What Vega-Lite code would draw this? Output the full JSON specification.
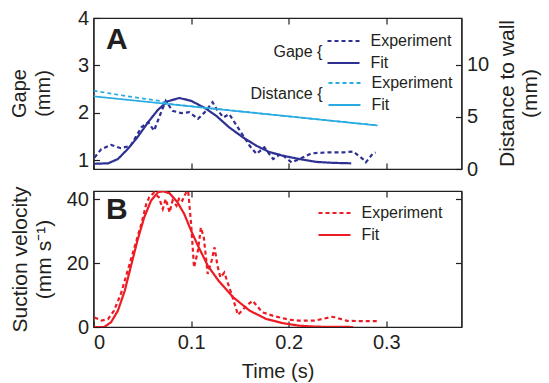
{
  "$schema": "https://vega.github.io/schema/vega-lite/v6.json",
  "padding": {"left": 8.5, "top": 7, "right": 0, "bottom": 0},
  "autosize": {"type": "pad"},
  "background": "white",
  "datasets": {
    "gape": [
      {"t": 0.001, "gape": 1.05, "series": "Experiment"},
      {"t": 0.008, "gape": 1.23, "series": "Experiment"},
      {"t": 0.018, "gape": 1.32, "series": "Experiment"},
      {"t": 0.028, "gape": 1.25, "series": "Experiment"},
      {"t": 0.038, "gape": 1.30, "series": "Experiment"},
      {"t": 0.049, "gape": 1.69, "series": "Experiment"},
      {"t": 0.056, "gape": 1.80, "series": "Experiment"},
      {"t": 0.062, "gape": 1.62, "series": "Experiment"},
      {"t": 0.068, "gape": 1.94, "series": "Experiment"},
      {"t": 0.074, "gape": 2.25, "series": "Experiment"},
      {"t": 0.081, "gape": 2.04, "series": "Experiment"},
      {"t": 0.090, "gape": 1.99, "series": "Experiment"},
      {"t": 0.098, "gape": 2.01, "series": "Experiment"},
      {"t": 0.107, "gape": 1.87, "series": "Experiment"},
      {"t": 0.114, "gape": 2.01, "series": "Experiment"},
      {"t": 0.122, "gape": 2.22, "series": "Experiment"},
      {"t": 0.126, "gape": 2.08, "series": "Experiment"},
      {"t": 0.133, "gape": 1.90, "series": "Experiment"},
      {"t": 0.139, "gape": 1.97, "series": "Experiment"},
      {"t": 0.150, "gape": 1.62, "series": "Experiment"},
      {"t": 0.160, "gape": 1.30, "series": "Experiment"},
      {"t": 0.167, "gape": 1.13, "series": "Experiment"},
      {"t": 0.175, "gape": 1.27, "series": "Experiment"},
      {"t": 0.184, "gape": 1.02, "series": "Experiment"},
      {"t": 0.192, "gape": 1.13, "series": "Experiment"},
      {"t": 0.203, "gape": 0.95, "series": "Experiment"},
      {"t": 0.211, "gape": 1.02, "series": "Experiment"},
      {"t": 0.223, "gape": 1.14, "series": "Experiment"},
      {"t": 0.238, "gape": 1.16, "series": "Experiment"},
      {"t": 0.256, "gape": 1.16, "series": "Experiment"},
      {"t": 0.266, "gape": 1.18, "series": "Experiment"},
      {"t": 0.276, "gape": 1.02, "series": "Experiment"},
      {"t": 0.279, "gape": 0.95, "series": "Experiment"},
      {"t": 0.286, "gape": 1.13, "series": "Experiment"},
      {"t": 0.289, "gape": 1.16, "series": "Experiment"},
      {"t": 0.000, "gape": 0.92, "series": "Fit"},
      {"t": 0.015, "gape": 0.93, "series": "Fit"},
      {"t": 0.025, "gape": 1.02, "series": "Fit"},
      {"t": 0.035, "gape": 1.23, "series": "Fit"},
      {"t": 0.045, "gape": 1.48, "series": "Fit"},
      {"t": 0.056, "gape": 1.80, "series": "Fit"},
      {"t": 0.066, "gape": 2.06, "series": "Fit"},
      {"t": 0.076, "gape": 2.24, "series": "Fit"},
      {"t": 0.088, "gape": 2.31, "series": "Fit"},
      {"t": 0.100, "gape": 2.25, "series": "Fit"},
      {"t": 0.114, "gape": 2.10, "series": "Fit"},
      {"t": 0.126, "gape": 1.93, "series": "Fit"},
      {"t": 0.139, "gape": 1.69, "series": "Fit"},
      {"t": 0.153, "gape": 1.48, "series": "Fit"},
      {"t": 0.167, "gape": 1.30, "series": "Fit"},
      {"t": 0.180, "gape": 1.17, "series": "Fit"},
      {"t": 0.194, "gape": 1.09, "series": "Fit"},
      {"t": 0.211, "gape": 1.02, "series": "Fit"},
      {"t": 0.228, "gape": 0.96, "series": "Fit"},
      {"t": 0.245, "gape": 0.94, "series": "Fit"},
      {"t": 0.264, "gape": 0.93, "series": "Fit"}
    ],
    "dist": [
      {"t": 0.000, "dist": 7.52, "series": "Experiment"},
      {"t": 0.031, "dist": 7.04, "series": "Experiment"},
      {"t": 0.066, "dist": 6.56, "series": "Experiment"},
      {"t": 0.080, "dist": 6.22, "series": "Experiment"},
      {"t": 0.150, "dist": 5.54, "series": "Experiment"},
      {"t": 0.220, "dist": 4.86, "series": "Experiment"},
      {"t": 0.290, "dist": 4.20, "series": "Experiment"},
      {"t": 0.000, "dist": 6.98, "series": "Fit"},
      {"t": 0.126, "dist": 5.76, "series": "Fit"},
      {"t": 0.291, "dist": 4.18, "series": "Fit"}
    ],
    "vel": [
      {"t": 0.001, "v": 3.0, "series": "Experiment"},
      {"t": 0.008, "v": 2.0, "series": "Experiment"},
      {"t": 0.015, "v": 2.5, "series": "Experiment"},
      {"t": 0.021, "v": 5.1, "series": "Experiment"},
      {"t": 0.028, "v": 10.3, "series": "Experiment"},
      {"t": 0.035, "v": 17.6, "series": "Experiment"},
      {"t": 0.042, "v": 24.9, "series": "Experiment"},
      {"t": 0.049, "v": 32.2, "series": "Experiment"},
      {"t": 0.054, "v": 38.4, "series": "Experiment"},
      {"t": 0.057, "v": 40.5, "series": "Experiment"},
      {"t": 0.062, "v": 42.0, "series": "Experiment"},
      {"t": 0.067, "v": 40.5, "series": "Experiment"},
      {"t": 0.071, "v": 36.9, "series": "Experiment"},
      {"t": 0.074, "v": 40.0, "series": "Experiment"},
      {"t": 0.078, "v": 35.8, "series": "Experiment"},
      {"t": 0.081, "v": 39.5, "series": "Experiment"},
      {"t": 0.085, "v": 37.9, "series": "Experiment"},
      {"t": 0.088, "v": 40.5, "series": "Experiment"},
      {"t": 0.091, "v": 39.5, "series": "Experiment"},
      {"t": 0.095, "v": 42.1, "series": "Experiment"},
      {"t": 0.097, "v": 42.5, "series": "Experiment"},
      {"t": 0.100, "v": 32.2, "series": "Experiment"},
      {"t": 0.103, "v": 18.6, "series": "Experiment"},
      {"t": 0.107, "v": 23.8, "series": "Experiment"},
      {"t": 0.110, "v": 31.1, "series": "Experiment"},
      {"t": 0.113, "v": 28.0, "series": "Experiment"},
      {"t": 0.117, "v": 16.6, "series": "Experiment"},
      {"t": 0.121, "v": 20.7, "series": "Experiment"},
      {"t": 0.124, "v": 24.9, "series": "Experiment"},
      {"t": 0.127, "v": 19.2, "series": "Experiment"},
      {"t": 0.130, "v": 15.5, "series": "Experiment"},
      {"t": 0.134, "v": 17.0, "series": "Experiment"},
      {"t": 0.142, "v": 9.8, "series": "Experiment"},
      {"t": 0.148, "v": 3.8, "series": "Experiment"},
      {"t": 0.157, "v": 6.7, "series": "Experiment"},
      {"t": 0.163, "v": 8.2, "series": "Experiment"},
      {"t": 0.173, "v": 4.6, "series": "Experiment"},
      {"t": 0.185, "v": 3.4, "series": "Experiment"},
      {"t": 0.200, "v": 2.3, "series": "Experiment"},
      {"t": 0.210, "v": 2.0, "series": "Experiment"},
      {"t": 0.227, "v": 2.0, "series": "Experiment"},
      {"t": 0.245, "v": 3.2, "series": "Experiment"},
      {"t": 0.260, "v": 1.9, "series": "Experiment"},
      {"t": 0.293, "v": 1.8, "series": "Experiment"},
      {"t": 0.000, "v": 0.0, "series": "Fit"},
      {"t": 0.011, "v": 0.0, "series": "Fit"},
      {"t": 0.018, "v": 1.5, "series": "Fit"},
      {"t": 0.025, "v": 5.1, "series": "Fit"},
      {"t": 0.032, "v": 11.3, "series": "Fit"},
      {"t": 0.038, "v": 18.6, "series": "Fit"},
      {"t": 0.045, "v": 27.0, "series": "Fit"},
      {"t": 0.052, "v": 34.3, "series": "Fit"},
      {"t": 0.059, "v": 39.5, "series": "Fit"},
      {"t": 0.066, "v": 42.1, "series": "Fit"},
      {"t": 0.071, "v": 42.4, "series": "Fit"},
      {"t": 0.078, "v": 41.8, "series": "Fit"},
      {"t": 0.086, "v": 39.0, "series": "Fit"},
      {"t": 0.093, "v": 35.3, "series": "Fit"},
      {"t": 0.100, "v": 30.1, "series": "Fit"},
      {"t": 0.107, "v": 25.4, "series": "Fit"},
      {"t": 0.117, "v": 19.2, "series": "Fit"},
      {"t": 0.128, "v": 14.5, "series": "Fit"},
      {"t": 0.143, "v": 9.3, "series": "Fit"},
      {"t": 0.160, "v": 5.1, "series": "Fit"},
      {"t": 0.177, "v": 2.5, "series": "Fit"},
      {"t": 0.194, "v": 1.2, "series": "Fit"},
      {"t": 0.211, "v": 0.4, "series": "Fit"},
      {"t": 0.228, "v": 0.1, "series": "Fit"},
      {"t": 0.266, "v": 0.0, "series": "Fit"}
    ]
  },
  "vconcat": [
    {
      "width": 368,
      "height": 151,
      "layer": [
        {
          "data": {"name": "gape"},
          "mark": {"type": "line", "color": "#2E3192", "strokeWidth": 2.2, "clip": true},
          "encoding": {
            "x": {"field": "t", "type": "quantitative", "scale": {"domain": [0, 0.377], "nice": false},
                  "axis": {"orient": "bottom", "labels": false, "title": null, "values": [0, 0.1, 0.2, 0.3]}},
            "y": {"field": "gape", "type": "quantitative", "scale": {"domain": [0.81, 4], "nice": false, "zero": false},
                  "axis": {"orient": "left", "values": [1, 2, 3, 4], "title": ["Gape", "(mm)"],
                           "titleX": -84, "titleY": 75, "titleAngle": -90, "titleBaseline": "top", "titleAlign": "center"}},
            "strokeDash": {"field": "series", "type": "nominal",
                  "scale": {"domain": ["Experiment", "Fit"], "range": [[4, 3], [1, 0]]},
                  "legend": {"title": "Gape {", "orient": "none", "legendX": 180, "legendY": 14}},
            "order": {"field": "t", "type": "quantitative"}
          }
        },
        {
          "data": {"name": "dist"},
          "mark": {"type": "line", "color": "#29ABE2", "strokeWidth": 1.7, "clip": true},
          "encoding": {
            "x": {"field": "t", "type": "quantitative",
                  "axis": {"orient": "top", "labels": false, "title": null, "values": [0.1, 0.2, 0.3]}},
            "y": {"field": "dist", "type": "quantitative", "scale": {"domain": [0, 14.5], "nice": false},
                  "axis": {"orient": "right", "values": [0, 5, 10], "title": ["Distance to wall", "(mm)"], "titleFontSize": 21, "titleLineHeight": 23,
                           "titleX": 35, "titleY": 75, "titleAngle": -90, "titleBaseline": "top", "titleAlign": "center"}},
            "strokeDash": {"field": "series", "type": "nominal",
                  "scale": {"domain": ["Experiment", "Fit"], "range": [[4, 3], [1, 0]]},
                  "legend": {"title": "Distance {", "orient": "none", "legendX": 157, "legendY": 56}},
            "order": {"field": "t", "type": "quantitative"}
          }
        },
        {
          "data": {"values": [{"label": "A"}]},
          "mark": {"type": "text", "fontSize": 30, "fontWeight": "bold", "color": "#231F20", "align": "left", "baseline": "alphabetic", "font": "Liberation Sans"},
          "encoding": {
            "x": {"datum": 0.0128, "type": "quantitative", "axis": null},
            "y": {"datum": 3.345, "type": "quantitative", "scale": {"domain": [0.81, 4], "nice": false, "zero": false}, "axis": null},
            "text": {"field": "label"}
          }
        }
      ],
      "resolve": {"scale": {"y": "independent", "strokeDash": "independent"}, "axis": {"x": "independent"}, "legend": {"strokeDash": "independent"}}
    },
    {
      "width": 368,
      "height": 136,
      "layer": [
        {
          "data": {"name": "vel"},
          "mark": {"type": "line", "color": "#ED1C24", "strokeWidth": 2.2, "clip": true},
          "encoding": {
            "x": {"field": "t", "type": "quantitative", "scale": {"domain": [0, 0.377], "nice": false},
                  "axis": {"orient": "bottom", "values": [0, 0.1, 0.2, 0.3], "format": "~g", "title": "Time (s)", "titlePadding": 9}},
            "y": {"field": "v", "type": "quantitative", "scale": {"domain": [0, 42.5], "nice": false},
                  "axis": {"orient": "left", "values": [0, 20, 40], "title": ["Suction velocity", "(mm s⁻¹)"], "titleFontSize": 21,
                           "titleX": -84, "titleY": 68, "titleAngle": -90, "titleBaseline": "top", "titleAlign": "center"}},
            "strokeDash": {"field": "series", "type": "nominal",
                  "scale": {"domain": ["Experiment", "Fit"], "range": [[4, 3], [1, 0]]},
                  "legend": {"title": null, "orient": "none", "legendX": 232, "legendY": 13}},
            "order": {"field": "t", "type": "quantitative"}
          }
        },
        {
          "data": {"name": "vel"},
          "mark": {"type": "line", "strokeOpacity": 0, "clip": true},
          "encoding": {
            "x": {"field": "t", "type": "quantitative",
                  "axis": {"orient": "top", "labels": false, "title": null, "values": [0.1, 0.2, 0.3]}},
            "y": {"field": "v", "type": "quantitative",
                  "axis": {"orient": "right", "labels": false, "title": null, "values": [20, 40]}},
            "detail": {"field": "series", "type": "nominal"}
          }
        },
        {
          "data": {"values": [{"label": "B"}]},
          "mark": {"type": "text", "fontSize": 30, "fontWeight": "bold", "color": "#231F20", "align": "left", "baseline": "alphabetic", "font": "Liberation Sans"},
          "encoding": {
            "x": {"datum": 0.0128, "type": "quantitative", "axis": null},
            "y": {"datum": 33.75, "type": "quantitative", "axis": null},
            "text": {"field": "label"}
          }
        }
      ],
      "resolve": {"axis": {"x": "independent", "y": "independent"}}
    }
  ],
  "spacing": 22,
  "bounds": "flush",
  "resolve": {"scale": {"strokeDash": "independent"}, "legend": {"strokeDash": "independent"}},
  "config": {
    "font": "Liberation Sans",
    "view": {"stroke": "#231F20", "strokeWidth": 1.2},
    "axis": {
      "labelFontSize": 20, "titleFontSize": 20, "titleFontWeight": "normal",
      "labelColor": "#231F20", "titleColor": "#231F20", "domainColor": "#231F20", "tickColor": "#231F20",
      "tickSize": -6, "tickWidth": 1.2, "domainWidth": 1.2, "grid": false, "labelPadding": 11,
      "titleLineHeight": 24, "labelFont": "Liberation Sans", "titleFont": "Liberation Sans"
    },
    "legend": {
      "padding": 0, "offset": 0,
      "symbolType": "M-2,0H2", "symbolSize": 256, "symbolStrokeWidth": 2,
      "labelFontSize": 16, "labelColor": "#231F20", "labelOffset": 18, "labelFont": "Liberation Sans",
      "titleFontSize": 16, "titleFontWeight": "normal", "titleColor": "#231F20", "titleFont": "Liberation Sans",
      "titleOrient": "left", "titlePadding": 12, "titleAnchor": "middle", "titleBaseline": "middle", "rowPadding": 5
    }
  }
}
